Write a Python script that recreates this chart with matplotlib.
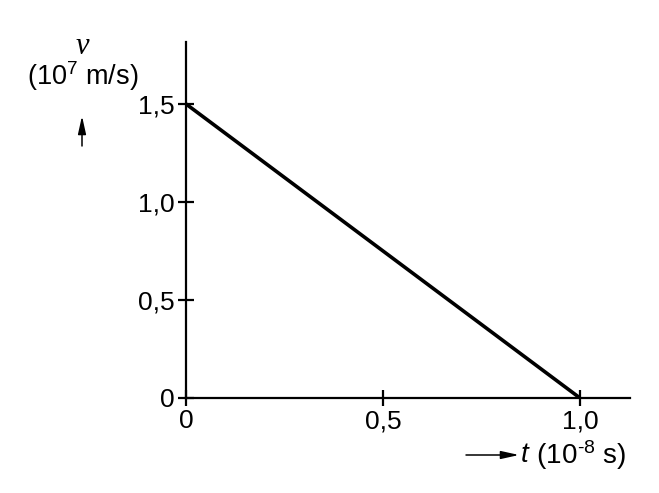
import matplotlib.pyplot as plt

# data: velocity falls linearly from 1.5 to 0
t_vals = [0.0, 1.0]
v_vals = [1.5, 0.0]
x_ticks = [0, 0.5, 1.0]
x_labels = ['0', '0,5', '1,0']
y_ticks = [0, 0.5, 1.0, 1.5]
y_labels = ['0', '0,5', '1,0', '1,5']

plt.rcParams['font.family'] = ['Liberation Sans', 'DejaVu Sans']
plt.rcParams['mathtext.fontset'] = 'custom'
plt.rcParams['mathtext.rm'] = 'Liberation Sans'
plt.rcParams['mathtext.it'] = 'Liberation Sans:italic'

fig = plt.figure(figsize=(6.59, 4.93), dpi=100)
ax = fig.add_axes([0.2822, 0.1927, 0.956 - 0.2822, 0.9148 - 0.1927])

ax.plot(t_vals, v_vals, color='black', linewidth=2.6, solid_capstyle='butt')

ax.set_xlim(0, 1.127)
ax.set_ylim(0, 1.816)
ax.set_xticks(x_ticks)
ax.set_xticklabels(x_labels)
ax.set_yticks(y_ticks)
ax.set_yticklabels(y_labels)

for side in ['top', 'right']:
    ax.spines[side].set_visible(False)
for side in ['left', 'bottom']:
    ax.spines[side].set_linewidth(1.6)

ax.tick_params(direction='inout', length=12, width=1.6, labelsize=19, pad=2)

arrow_kw = dict(arrowstyle='-|>,head_width=0.2,head_length=0.9', color='black',
                lw=1.1, mutation_scale=12, shrinkA=0, shrinkB=0)

# y label: v, unit, arrow pointing up
fig.text(82 / 659, 1 - 47 / 493, 'v', family='Liberation Serif', style='italic',
         fontsize=22, ha='center', va='center')
fig.text(83 / 659, 1 - 76 / 493, r'(10$^{7}$ m/s)', fontsize=19.5, ha='center', va='center')
ax.annotate('', xy=(82 / 659, 1 - 116 / 493), xytext=(82 / 659, 1 - 146 / 493),
            xycoords='figure fraction', textcoords='figure fraction', arrowprops=arrow_kw)

# x label: arrow pointing right, t, unit
ax.annotate('', xy=(519 / 659, 1 - 455 / 493), xytext=(466 / 659, 1 - 455 / 493),
            xycoords='figure fraction', textcoords='figure fraction', arrowprops=arrow_kw)
t_txt = fig.text(521 / 659, 1 - 455 / 493, 't', style='italic', fontsize=20,
                 ha='left', va='center')
ax.annotate(r' (10$^{\text{-}8}$ s)', xy=(1, 0.5), xycoords=t_txt, fontsize=20,
            ha='left', va='center')

plt.savefig('out.png', dpi=100)
